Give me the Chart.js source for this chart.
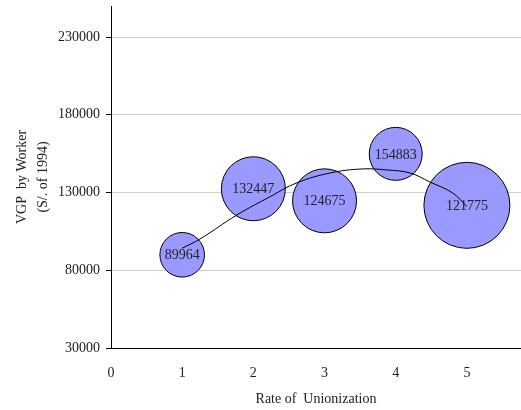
<html>
<head>
<title>VGP by Worker vs Rate of Unionization</title>
<script src="https://cdn.jsdelivr.net/npm/chart.js@4.4.1/dist/chart.umd.min.js"></script>
<style>
  html, body { margin: 0; padding: 0; background: #fff; }
  #box { width: 521px; height: 410px; position: relative; }
</style>
</head>
<body>
<div id="box"><canvas id="myChart"></canvas></div>
<script>
// bubbles
const rate = [1, 2, 3, 4, 5];
const vgp = [89964, 132447, 124675, 154883, 121775];
const bubbleSize = [22.3, 32, 32, 26.5, 43];
// trend line
const trendX = [1, 1.25, 1.77, 2.23, 2.61, 3.08, 3.54, 3.88, 4.2, 4.48, 4.8, 5];
const trendY = [94200, 100100, 115600, 127200, 136200, 142600, 145200, 144500, 142600, 136800, 129700, 121000];
// axis ticks
const xTicks = [0, 1, 2, 3, 4, 5];
const yTicks = [30000, 80000, 130000, 180000, 230000];

const serif = '"Liberation Serif", "DejaVu Serif", serif';

const bubblePoints = rate.map((x, i) => ({ x: x, y: vgp[i], r: bubbleSize[i] }));
const trendPoints = trendX.map((x, i) => ({ x: x, y: trendY[i] }));

// value written in the middle of every bubble
const bubbleLabels = {
  id: 'bubbleLabels',
  afterDatasetsDraw(chart) {
    const ctx = chart.ctx;
    const meta = chart.getDatasetMeta(1);
    ctx.save();
    ctx.font = '14px ' + serif;
    ctx.fillStyle = '#222';
    ctx.textAlign = 'center';
    ctx.textBaseline = 'middle';
    meta.data.forEach((pt, i) => {
      ctx.fillText(String(vgp[i]), pt.x, pt.y + 1);
    });
    ctx.restore();
  }
};

const ctx = document.getElementById('myChart').getContext('2d');
const chart = new Chart(ctx, {
  type: 'bubble',
  data: {
    datasets: [
      {
        type: 'line',
        label: 'trend',
        data: trendPoints,
        borderColor: '#000',
        borderWidth: 1,
        pointRadius: 0,
        tension: 0.4,
        fill: false
      },
      {
        label: 'VGP',
        data: bubblePoints,
        backgroundColor: '#9999ff',
        borderColor: '#000',
        borderWidth: 1,
        hoverRadius: 0
      }
    ]
  },
  options: {
    responsive: true,
    maintainAspectRatio: false,
    animation: false,
    events: [],
    layout: { autoPadding: false, padding: { top: 6, right: 0, bottom: 0, left: 0 } },
    plugins: {
      legend: { display: false },
      tooltip: { enabled: false }
    },
    scales: {
      x: {
        type: 'linear',
        min: 0,
        max: 5.76,
        afterBuildTicks: s => { s.ticks = xTicks.map(v => ({ value: v })); },
        afterFit: s => { s.height = 62; s.paddingRight = 0; },
        ticks: {
          padding: 17,
          color: '#222',
          font: { family: serif, size: 14 },
          callback: v => String(v)
        },
        grid: { display: false, drawTicks: false },
        border: { display: true, color: '#000', width: 1 },
        title: {
          display: true,
          text: 'Rate of  Unionization',
          color: '#222',
          font: { family: serif, size: 14 },
          padding: { top: 0, bottom: 2 }
        }
      },
      y: {
        type: 'linear',
        min: 30000,
        max: 250000,
        afterBuildTicks: s => { s.ticks = yTicks.map(v => ({ value: v })); },
        afterFit: s => { s.width = 111; s.paddingTop = 0; s.paddingBottom = 0; },
        ticks: {
          padding: 6,
          color: '#222',
          font: { family: serif, size: 14 },
          callback: v => String(v)
        },
        grid: {
          color: '#cfcfcf',
          lineWidth: 1,
          drawTicks: true,
          tickLength: 5,
          tickColor: '#000'
        },
        border: { display: true, color: '#000', width: 1 },
        title: {
          display: true,
          text: ['VGP  by Worker', '(S/. of 1994)'],
          color: '#222',
          font: { family: serif, size: 14, lineHeight: 1.5 },
          padding: { top: 11.5, bottom: 0 }
        }
      }
    }
  },
  plugins: [bubbleLabels]
});
</script>
</body>
</html>
